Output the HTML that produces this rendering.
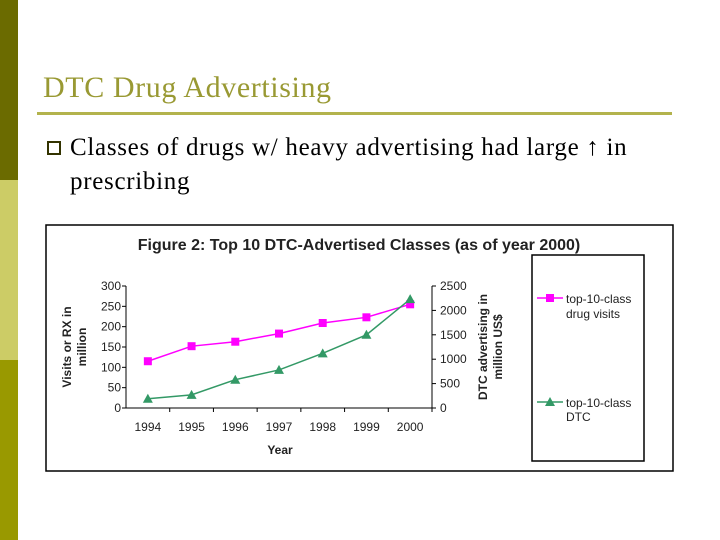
<!DOCTYPE html>
<html><head><meta charset="utf-8"><style>
body{margin:0;width:720px;height:540px;background:#fff;position:relative;overflow:hidden;font-family:"Liberation Serif",serif}
.abs{position:absolute}
</style></head><body>
<div class="abs" style="left:0;top:0;width:18px;height:180px;background:#6b6b00"></div>
<div class="abs" style="left:0;top:180px;width:18px;height:180px;background:#cccc66"></div>
<div class="abs" style="left:0;top:360px;width:18px;height:180px;background:#999900"></div>
<div class="abs" style="left:43px;top:71px;font-size:30px;letter-spacing:0.6px;color:#999933">DTC Drug Advertising</div>
<div class="abs" style="left:37px;top:112px;width:635px;height:3px;background:#b3b34d"></div>
<div class="abs" style="left:47px;top:141px;width:10px;height:10px;border:2px solid #333300;background:#fff"></div>
<div class="abs" style="left:70px;top:131px;font-size:25px;letter-spacing:0.7px;line-height:34px;color:#000">Classes of drugs w/ heavy advertising had large ↑ in<br>prescribing</div>
<svg class="abs" style="left:0;top:0" width="720" height="540" font-family="Liberation Sans, sans-serif">
<rect x="46" y="225" width="627" height="246" fill="#fff" stroke="#000" stroke-width="1.5"/>
<text x="359" y="250" text-anchor="middle" font-size="16" font-weight="bold" fill="#222">Figure 2: Top 10 DTC-Advertised Classes (as of year 2000)</text>
<rect x="532" y="255" width="112" height="206" fill="#fff" stroke="#000" stroke-width="1.5"/>
<g id="axes"></g>
<g id="marks"></g>
<g>
<line x1="537" y1="298" x2="563" y2="298" stroke="#ff00ff" stroke-width="1.5"/>
<rect x="546" y="294" width="8" height="8" fill="#ff00ff"/>
<text x="566" y="303" font-size="12" fill="#222">top-10-class</text>
<text x="566" y="318" font-size="12" fill="#222">drug visits</text>
</g>
<g>
<line x1="537" y1="402" x2="563" y2="402" stroke="#339966" stroke-width="1.5"/>
<polygon points="550,397 555,406 545,406" fill="#339966"/>
<text x="566" y="407" font-size="12" fill="#222">top-10-class</text>
<text x="566" y="421" font-size="12" fill="#222">DTC</text>
</g>
<text transform="translate(71,347) rotate(-90)" text-anchor="middle" font-size="12" font-weight="bold" fill="#222"><tspan x="0" dy="0">Visits or RX in</tspan><tspan x="0" dy="15">million</tspan></text>
<text transform="translate(487,347) rotate(-90)" text-anchor="middle" font-size="12" font-weight="bold" fill="#222"><tspan x="0" dy="0">DTC advertising in</tspan><tspan x="0" dy="15">million US$</tspan></text>
<text x="280" y="454" text-anchor="middle" font-size="12" font-weight="bold" fill="#222">Year</text>
</svg>
<script>
const years=["1994","1995","1996","1997","1998","1999","2000"];
const visits=[115,152,163,183,209,223,255];
const dtc=[190,270,580,780,1120,1500,2230];
const leftTicks=[0,50,100,150,200,250,300];
const rightTicks=[0,500,1000,1500,2000,2500];
const NS="http://www.w3.org/2000/svg";
const X0=126,X1=432,Y0=408,Y1=286;
const bw=(X1-X0)/years.length;
const xs=i=>X0+bw*(i+0.5);
const yl=v=>Y0-(v/300)*(Y0-Y1);
const yr=v=>Y0-(v/2500)*(Y0-Y1);
function mk(tag,attrs,parent,txt){const e=document.createElementNS(NS,tag);for(const k in attrs)e.setAttribute(k,attrs[k]);if(txt!==undefined)e.textContent=txt;parent.appendChild(e);return e;}
const ax=document.getElementById('axes'),mg=document.getElementById('marks');
let e=mk('line',{x1:X0,y1:Y1,x2:X0,y2:Y0,stroke:'#000'},ax);


e=mk('line',{x1:X1,y1:Y1,x2:X1,y2:Y0,stroke:'#000'},ax);


e=mk('line',{x1:X0,y1:Y0,x2:X1,y2:Y0,stroke:'#000'},ax);


leftTicks.forEach(v=>{mk('line',{x1:X0-4,x2:X0,y1:yl(v),y2:yl(v),stroke:'#000'},ax);
 const t=mk('text',{x:X0-5,y:yl(v)+4,'text-anchor':'end','font-size':12,fill:'#222'},ax,v);
 
 });
rightTicks.forEach(v=>{mk('line',{x1:X1,x2:X1+4,y1:yr(v),y2:yr(v),stroke:'#000'},ax);
 const t=mk('text',{x:X1+8,y:yr(v)+4,'text-anchor':'start','font-size':12,fill:'#222'},ax,v);
 
 });
years.forEach((y,i)=>{mk('line',{x1:X0+bw*(i+1),x2:X0+bw*(i+1),y1:Y0,y2:Y0+4,stroke:'#000'},ax);
 const t=mk('text',{x:xs(i),y:Y0+23,'text-anchor':'middle','font-size':12,fill:'#222'},ax,y);
 
 });
const lv=mk('polyline',{points:visits.map((v,i)=>xs(i)+','+yl(v)).join(' '),fill:'none',stroke:'#ff00ff','stroke-width':1.5},mg);


const ld=mk('polyline',{points:dtc.map((v,i)=>xs(i)+','+yr(v)).join(' '),fill:'none',stroke:'#339966','stroke-width':1.5},mg);


visits.forEach((v,i)=>{const r=mk('rect',{x:xs(i)-4,y:yl(v)-4,width:8,height:8,fill:'#ff00ff'},mg);
 
 });
dtc.forEach((v,i)=>{const x=xs(i),y=yr(v);const p=mk('polygon',{points:`${x},${y-5} ${x+5},${y+4} ${x-5},${y+4}`,fill:'#339966'},mg);
 
 });
</script>
</body></html>
